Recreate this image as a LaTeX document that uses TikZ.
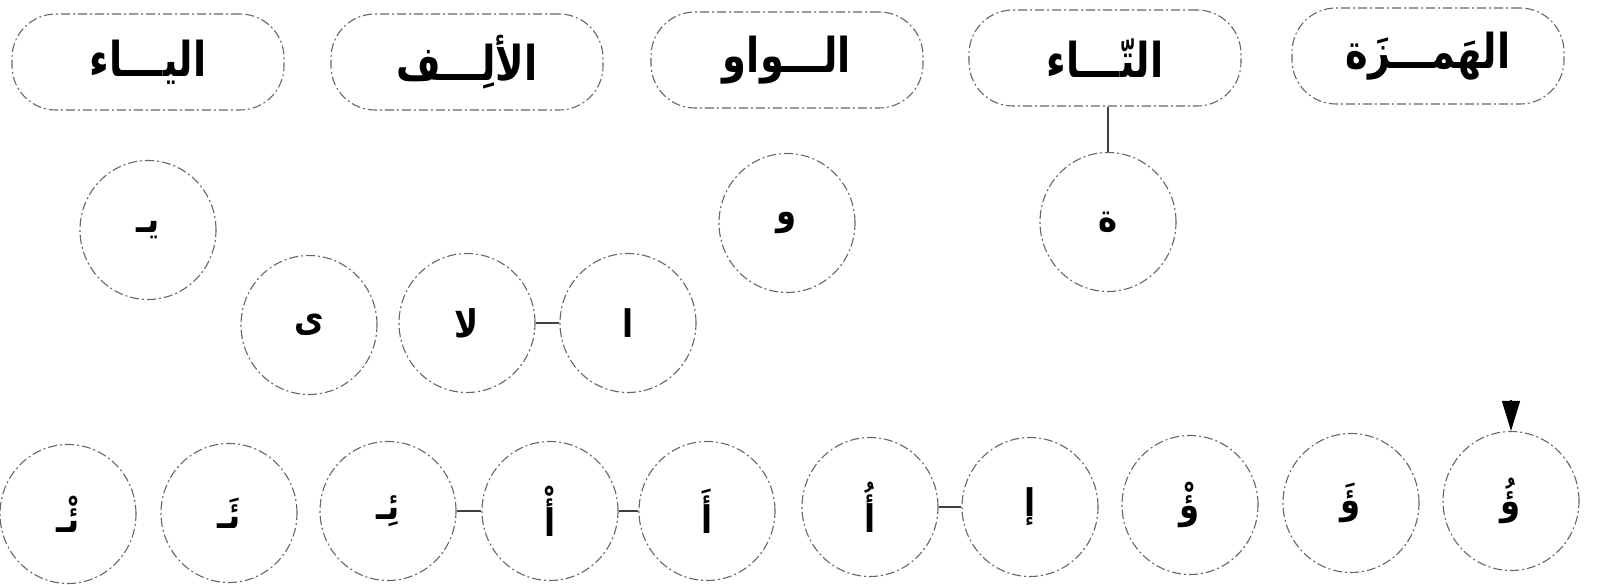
\documentclass[tikz,border=0pt]{standalone}
\usepackage{fontspec}
\newfontfamily\arabicfont[Script=Arabic, FakeStretch=0.8]{DejaVu Sans}
\newfontfamily\arabiccirc[Script=Arabic, FakeStretch=0.85]{DejaVu Sans}
\TeXXeTstate=1
\usetikzlibrary{shapes.geometric,arrows.meta}
\tikzset{
  outl/.style={draw=black!60, line width=1.1pt, dash pattern=on 9pt off 3pt on 2pt off 3pt},
  pill/.style={outl, rectangle, rounded corners=44pt, minimum width=272pt, minimum height=96pt, inner sep=0pt,
    font=\arabicfont\bfseries\fontsize{48}{48}\selectfont},
  letter/.style={outl, ellipse, minimum width=136pt, minimum height=139pt, inner sep=0pt,
    font=\arabiccirc\bfseries\fontsize{38}{38}\selectfont},
  conn/.style={draw=black!75, line width=1.2pt},
}
\begin{document}
\begin{tikzpicture}[x=1pt,y=-1pt]
\useasboundingbox (0,0) rectangle (1600,585);
% top pills
\node[pill] (p1) at (148,62) {\beginR اليـــاء\endR};
\node[pill] (p2) at (467,62) {\beginR الألِـــف\endR};
\node[pill] (p3) at (787,60) {\beginR الـــواو\endR};
\node[pill] (p4) at (1105,58) {\beginR التّـــاء\endR};
\node[pill] (p5) at (1428,56) {\beginR الهَمـــزَة\endR};
% middle circles
\node[letter] (ya) at (148,230) {\beginR يـ\endR};
\node[letter] (yaa) at (309,325) {\beginR ى\endR};
\node[letter] (lamalif) at (467,323) {\beginR لا\endR};
\node[letter] (alif) at (628,323) {\beginR ا\endR};
\node[letter] (waw) at (787,223) {\beginR و\endR};
\node[letter] (taa) at (1108,222) {\beginR ة\endR};
% bottom row
\node[letter] (b1) at (68,514) {\beginR ئْـ\endR};
\node[letter] (b2) at (229,513) {\beginR ئَـ\endR};
\node[letter] (b3) at (388,511) {\beginR ئِـ\endR};
\node[letter] (b4) at (550,511) {\beginR أْ\endR};
\node[letter] (b5) at (707,511) {\beginR أَ\endR};
\node[letter] (b6) at (870,507) {\beginR أُ\endR};
\node[letter] (b7) at (1030,507) {\beginR إ\endR};
\node[letter] (b8) at (1190,505) {\beginR ؤْ\endR};
\node[letter] (b9) at (1351,503) {\beginR ؤَ\endR};
\node[letter] (b10) at (1511,501) {\beginR ؤُ\endR};
% connectors
\draw[conn] (lamalif.east) -- (alif.west);
\draw[conn] (p4.south -| taa.north) -- (taa.north);
\draw[conn] (b3.east) -- (b4.west);
\draw[conn] (b4.east) -- (b5.west);
\draw[conn] (b6.east) -- (b7.west);
\coordinate (arrstart) at ([yshift=31pt]b10.north);
\draw[conn, draw=black, -{Triangle[width=18pt,length=30pt]}] (arrstart) -- (b10.north);
\end{tikzpicture}
\end{document}
